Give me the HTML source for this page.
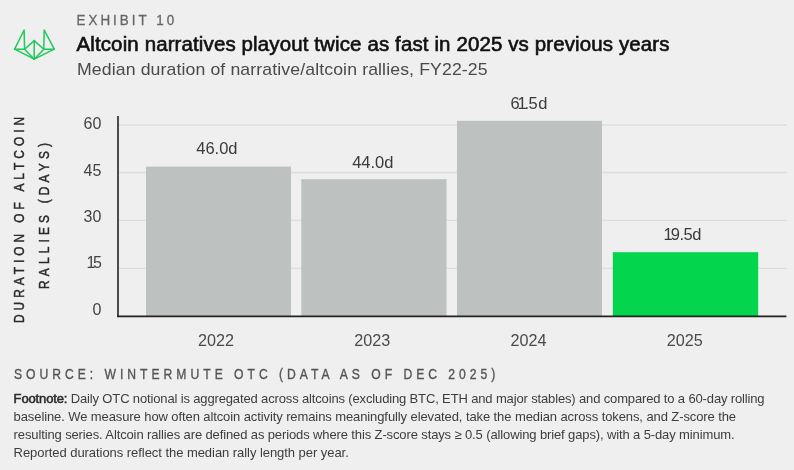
<!DOCTYPE html>
<html><head><meta charset="utf-8"><title>Exhibit 10</title>
<style>
html,body{margin:0;padding:0;background:#efefef;}
body{width:794px;height:470px;overflow:hidden;}
svg{display:block;will-change:transform;}
text{font-family:"Liberation Sans",Arial,sans-serif;}
</style></head>
<body>
<svg width="794" height="470" viewBox="0 0 794 470">
<rect x="0" y="0" width="794" height="470" fill="#efefef"/>
<!-- logo -->
<g fill="none" stroke="#1fc95a" stroke-width="1.5" stroke-linejoin="round" stroke-linecap="round">
<path d="M14.6 49.2 L24.1 30 L24.6 49.2 Z"/>
<path d="M54.3 49.2 L44.2 30 L43.8 49.2 Z"/>
<path d="M24.6 49.2 L34.2 40.6 L43.8 49.2 L34.2 59.2 Z"/>
<path d="M34.2 40.6 L34.2 59.2"/>
<path d="M14.6 49.2 L34.2 59.2 L54.3 49.2"/>
</g>
<!-- header -->
<text transform="translate(76.5,25.4) scale(0.92,1)" x="0" y="0" font-size="14.6" fill="#666" stroke="#666" stroke-width="0.3" textLength="106.1" lengthAdjust="spacing">EXHIBIT 10</text>
<text transform="translate(76.5,51.2) scale(1.055,1)" x="0" y="0" font-size="19.4" fill="#111" stroke="#111" stroke-width="0.6" textLength="562.1" lengthAdjust="spacing">Altcoin narratives playout twice as fast in 2025 vs previous years</text>
<text transform="translate(77,74.7) scale(1.04,1)" x="0" y="0" font-size="17" fill="#4a4a4a" textLength="394.8" lengthAdjust="spacing">Median duration of narrative/altcoin rallies, FY22-25</text>
<!-- gridlines -->
<g stroke="#dcdcdc" stroke-width="1.3">
<line x1="118" y1="125" x2="786.5" y2="125"/>
<line x1="118" y1="172.5" x2="786.5" y2="172.5"/>
<line x1="118" y1="220.4" x2="786.5" y2="220.4"/>
<line x1="118" y1="268.4" x2="786.5" y2="268.4"/>
</g>
<!-- bars -->
<rect x="146" y="166.6" width="145" height="149.4" fill="#bdc1bf"/>
<rect x="301.3" y="179.2" width="145.2" height="136.8" fill="#bdc1bf"/>
<rect x="457" y="120.8" width="145" height="195.2" fill="#bdc1bf"/>
<rect x="612.8" y="252.2" width="145.4" height="63.8" fill="#03d54c"/>
<!-- axes -->
<line x1="118" y1="116" x2="118" y2="317" stroke="#222" stroke-width="1.6"/>
<line x1="117.1" y1="316.4" x2="786.4" y2="316.4" stroke="#222" stroke-width="1.6"/>
<!-- y tick labels -->
<g font-size="16" fill="#444" text-anchor="end">
<text x="101.4" y="129.1">60</text>
<text x="101.4" y="175.8">45</text>
<text x="101.4" y="222">30</text>
<text x="86.4 93" y="268.3" text-anchor="start">15</text>
<text x="101.4" y="314.9">0</text>
</g>
<!-- value labels -->
<g font-size="16.5" fill="#3a3a3a" text-anchor="middle">
<text x="216.9" y="154.2">46.0d</text>
<text x="372.8" y="168">44.0d</text>
<text x="510.4 517.5 524.5 528.4 538.2" y="108.9" text-anchor="start">61.5d</text>
<text x="663.6 670.8 679.4 683.4 692.2" y="240" text-anchor="start">19.5d</text>
</g>
<!-- x labels -->
<g font-size="16.2" fill="#4a4a4a" text-anchor="middle">
<text x="216" y="346.3">2022</text>
<text x="372.3" y="346.3">2023</text>
<text x="528.5" y="346.3">2024</text>
<text x="684.7" y="346.3">2025</text>
</g>
<!-- y axis title -->
<g font-size="14" fill="#2a2a2a" stroke="#2a2a2a" stroke-width="0.45" text-anchor="middle">
<text transform="translate(24.2,220) rotate(-90) scale(0.85,1)" x="0" y="0" textLength="242.4" lengthAdjust="spacing">DURATION OF ALTCOIN</text>
<text transform="translate(48.5,216) rotate(-90) scale(0.85,1)" x="0" y="0" textLength="171.8" lengthAdjust="spacing">RALLIES (DAYS)</text>
</g>
<!-- source -->
<text transform="translate(13.9,379.1) scale(0.85,1)" x="0" y="0" font-size="14.3" fill="#555" stroke="#555" stroke-width="0.35" textLength="566.5" lengthAdjust="spacing">SOURCE: WINTERMUTE OTC (DATA AS OF DEC 2025)</text>
<!-- footnote -->
<g font-size="13" fill="#3d3d3d">
<text x="13.6" y="403.1" textLength="751" lengthAdjust="spacing"><tspan fill="#2a2a2a" stroke="#2a2a2a" stroke-width="0.55">Footnote:</tspan> Daily OTC notional is aggregated across altcoins (excluding BTC, ETH and major stables) and compared to a 60-day rolling</text>
<text x="13.6" y="421" textLength="722.5" lengthAdjust="spacing">baseline. We measure how often altcoin activity remains meaningfully elevated, take the median across tokens, and Z-score the</text>
<text x="13.6" y="439.2" textLength="721" lengthAdjust="spacing">resulting series. Altcoin rallies are defined as periods where this Z-score stays ≥ 0.5 (allowing brief gaps), with a 5-day minimum.</text>
<text x="13.6" y="457.3" textLength="335.2" lengthAdjust="spacing">Reported durations reflect the median rally length per year.</text>
</g>
</svg>
</body></html>
